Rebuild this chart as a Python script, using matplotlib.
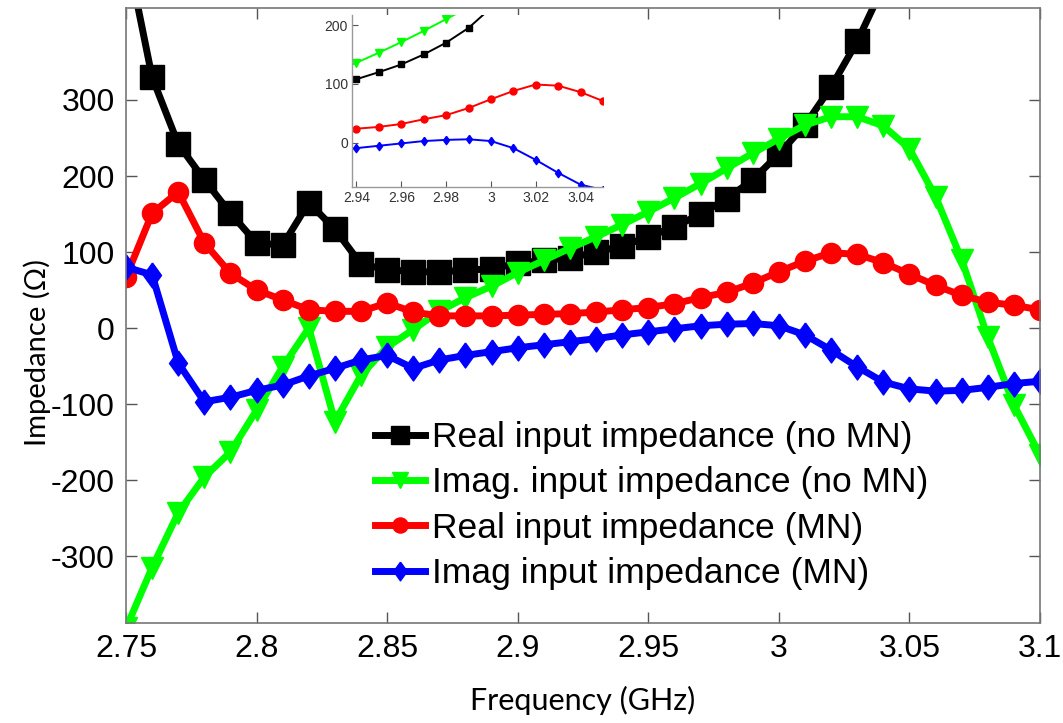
import matplotlib
matplotlib.use("Agg")
import matplotlib.pyplot as plt

plt.rcParams["axes.unicode_minus"] = False

freq = [2.75, 2.76, 2.77, 2.78, 2.79, 2.80, 2.81, 2.82, 2.83, 2.84, 2.85, 2.86,
        2.87, 2.88, 2.89, 2.90, 2.91, 2.92, 2.93, 2.94, 2.95, 2.96, 2.97, 2.98,
        2.99, 3.00, 3.01, 3.02, 3.03, 3.04, 3.05, 3.06, 3.07, 3.08, 3.09, 3.10]

real_no_mn = [500, 330, 242, 195, 151, 112, 109, 165, 130, 84, 77, 74,
              74, 76, 78, 85, 89, 92, 100, 108, 120, 133, 150, 170,
              195, 229, 267, 317, 377, 450, 530, 620, 720, 830, 950, 1080]

imag_no_mn = [-395, -315, -243, -196, -163, -108, -51, 0, -123, -62, -25, -2,
              22, 40, 55, 73, 89, 105, 120, 136, 153, 171, 190, 210,
              230, 249, 267, 278, 278, 266, 236, 173, 90, -12, -101, -167]

real_mn = [67, 151, 179, 112, 72, 50, 37, 24, 22, 22, 33, 21,
           16, 16, 16, 17, 18, 19, 21, 24, 27, 32, 40, 47,
           59, 74, 88, 99, 97, 86, 71, 56, 43, 34, 30, 24]

imag_mn = [80, 70, -46, -97, -91, -82, -75, -63, -53, -42, -36, -53,
           -42, -36, -31, -26, -22, -18, -14, -9, -5, -1, 3, 5,
           6, 3, -9, -29, -51, -71, -80, -83, -82, -78, -73, -70]

labels = ["Real input impedance (no MN)", "Imag. input impedance (no MN)",
          "Real input impedance (MN)", "Imag input impedance (MN)"]
colors = ["#000000", "#00ff00", "#ff0000", "#0000ff"]
diamond = [(0, 1), (0.72, 0), (0, -1), (-0.72, 0), (0, 1)]
markers = ["s", "v", "o", diamond]
msizes = [17, 16, 14.5, 18]
inset_msizes = [5, 5.5, 5, 6]

xticks = [2.75, 2.8, 2.85, 2.9, 2.95, 3.0, 3.05, 3.1]
xticklabels = ["2.75", "2.8", "2.85", "2.9", "2.95", "3", "3.05", "3.1"]
yticks = [-300, -200, -100, 0, 100, 200, 300]

inset_xticks = [2.94, 2.96, 2.98, 3.0, 3.02, 3.04]
inset_xticklabels = ["2.94", "2.96", "2.98", "3", "3.02", "3.04"]
inset_yticks = [0, 100, 200]

series = [real_no_mn, imag_no_mn, real_mn, imag_mn]

W, H = 1063, 723
fig = plt.figure(figsize=(W / 100, H / 100), dpi=100)
ax = fig.add_axes([126 / W, 1 - 623 / H, (1040 - 126) / W, (623 - 8) / H])

for s, c, m, ms, lab in zip(series, colors, markers, msizes, labels):
    ax.plot(freq, s, color=c, marker=m, markersize=ms, linewidth=5,
            markeredgecolor=c, markerfacecolor=c, label=lab)

ax.set_xlim(2.75, 3.1)
ax.set_ylim(-388, 421)
ax.set_xticks(xticks)
ax.set_xticklabels(xticklabels)
ax.set_yticks(yticks)
for t in ax.get_xticklabels() + ax.get_yticklabels():
    t.set_fontfamily("Liberation Sans")
    t.set_fontsize(23)
ax.tick_params(direction="in", length=8, width=1, color="#555555",
               top=True, right=True, pad=8)
for sp in ax.spines.values():
    sp.set_color("#777777")
    sp.set_linewidth(1.2)

ax.set_xlabel("Frequency (GHz)", fontfamily="Lato", fontsize=22)
ax.set_ylabel("Impedance (\u03a9)", fontfamily="Lato", fontsize=21)
ax.xaxis.set_label_coords(0.5, -0.103)
ax.yaxis.set_label_coords(-0.082, 0.44)

leg = ax.legend(loc="upper left", bbox_to_anchor=(375 / W, 1 - 421 / H),
                bbox_transform=fig.transFigure, frameon=False,
                prop=dict(family="Liberation Sans", size=25.5),
                handlelength=1.4, handletextpad=0.2, labelspacing=0.35,
                borderpad=0, borderaxespad=0, markerscale=0.75)

# inset
ix0, ix1, iy0, iy1 = 352, 603, 15, 187
axi = fig.add_axes([ix0 / W, 1 - iy1 / H, (ix1 - ix0) / W, (iy1 - iy0) / H])
for s, c, m, ms in zip(series, colors, markers, inset_msizes):
    axi.plot(freq, s, color=c, marker=m, markersize=ms, linewidth=1.4,
             markeredgecolor=c, markerfacecolor=c)
axi.set_xlim(2.938, 3.05)
axi.set_ylim(-75, 217)
axi.set_xticks(inset_xticks)
axi.set_xticklabels(inset_xticklabels)
axi.set_yticks(inset_yticks)
for t in axi.get_xticklabels() + axi.get_yticklabels():
    t.set_fontfamily("Liberation Sans")
    t.set_fontsize(10)
    t.set_color("#333333")
axi.tick_params(direction="in", length=4, width=0.8, color="#555555", pad=3)
axi.spines["top"].set_visible(False)
axi.spines["right"].set_visible(False)
for k in ("left", "bottom"):
    axi.spines[k].set_color("#999999")
    axi.spines[k].set_linewidth(1.0)

fig.savefig("out.png", dpi=100)
